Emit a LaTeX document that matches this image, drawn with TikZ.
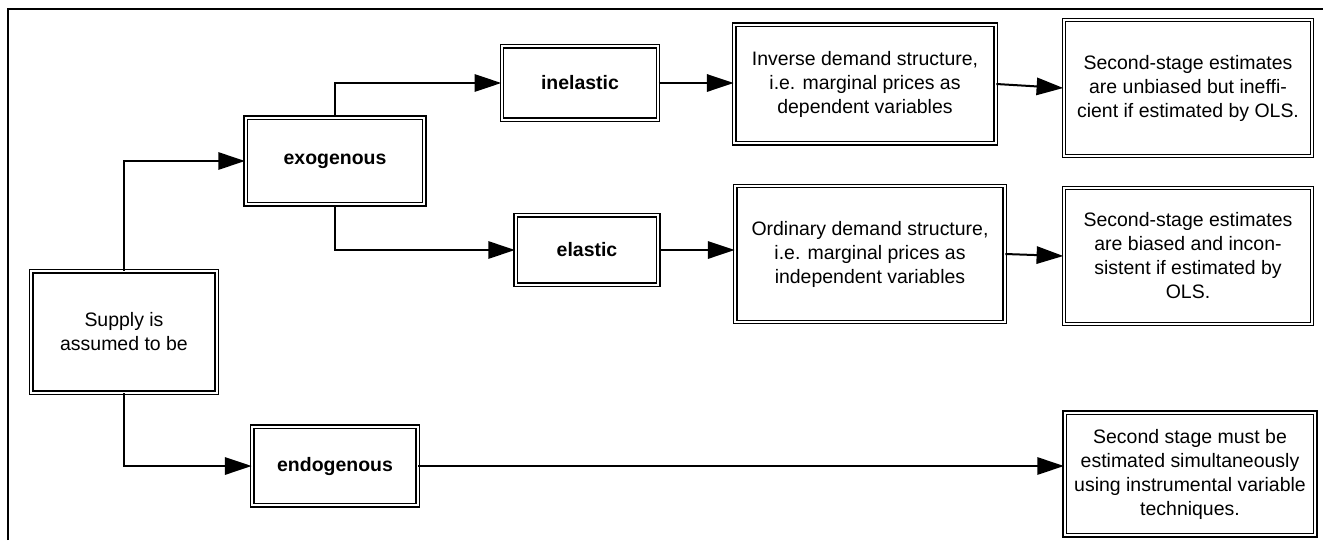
\documentclass[tikz,border=0pt]{standalone}
\usepackage{fontspec}
\setmainfont{Liberation Sans}
\usetikzlibrary{arrows.meta}
\tikzset{
    box/.style={draw, double, line width=1.1pt, double distance=1.4pt, align=center,
        inner sep=2pt, font=\fontsize{14.6}{18}\selectfont},
    boldbox/.style={box, font=\fontsize{14.6}{18}\selectfont\bfseries},
    conn/.style={line width=1.5pt, -{Triangle[length=20pt,width=13pt]}}
}
\begin{document}
\begin{tikzpicture}[x=0.75pt,y=-0.75pt]
            \useasboundingbox (0,0) rectangle (1323,540);
            \draw[line width=0.9pt] (8,540) -- (8,9) -- (1323,9);
            % first column
            \node[box, minimum width=139pt, minimum height=91pt] (supply) at (124,332) {Supply is\\assumed to be};
            % second column
            \node[boldbox, minimum width=134pt, minimum height=65pt] (exo) at (335,161) {exogenous};
            \node[boldbox, minimum width=124pt, minimum height=59pt] (endo) at (335,466) {endogenous};
            % third column
            \node[boldbox, minimum width=117pt, minimum height=55pt] (inelastic) at (580,83) {inelastic};
            \node[boldbox, minimum width=107pt, minimum height=52pt] (elastic) at (587,250) {elastic};
            % fourth column
            \node[box, minimum width=196pt, minimum height=89pt] (inverse) at (865,84) {Inverse demand structure,\\i.e. marginal prices as\\dependent variables};
            \node[box, minimum width=202pt, minimum height=102pt] (ordinary) at (870,254) {Ordinary demand structure,\\i.e. marginal prices as\\independent variables};
            % last column
            \node[box, minimum width=186pt, minimum height=102pt] (ssone) at (1188,88) {Second-stage estimates\\are unbiased but ineffi-\\cient if estimated by OLS.};
            \node[box, minimum width=186pt, minimum height=102pt] (sstwo) at (1188,256) {Second-stage estimates\\are biased and incon-\\sistent if estimated by\\OLS.};
            \node[box, minimum width=188pt, minimum height=92pt] (ssthree) at (1190,474) {Second stage must be\\estimated simultaneously\\using instrumental variable\\techniques.};
            % connectors
            \draw[conn] (supply.north) |- (exo.west);
            \draw[conn] (supply.south) |- (endo.west);
            \draw[conn] (exo.north) |- (inelastic.west);
            \draw[conn] (exo.south) |- (elastic.west);
            \draw[conn] (inelastic.east) -- (inelastic.east -| inverse.west);
            \draw[conn] (elastic.east) -- (elastic.east -| ordinary.west);
            \draw[conn] (inverse.east) -- (ssone.west);
            \draw[conn] (ordinary.east) -- (sstwo.west);
            \draw[conn] (endo.east) -- (endo.east -| ssthree.west);
        \end{tikzpicture}
\end{document}
